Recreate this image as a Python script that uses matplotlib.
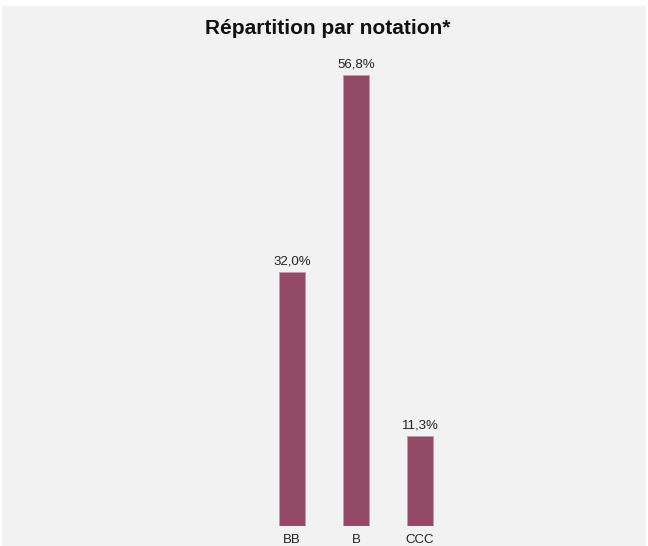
import matplotlib
matplotlib.use('Agg')
import matplotlib.pyplot as plt
from matplotlib.patches import Rectangle

plt.rcParams['font.family'] = ['Liberation Sans', 'DejaVu Sans']

# data
ratings = ['BB', 'B', 'CCC']
shares = [32.0, 56.8, 11.3]
labels = ['32,0%', '56,8%', '11,3%']

W, H = 648, 546
fig = plt.figure(figsize=(W / 100, H / 100), dpi=100)
fig.patch.set_facecolor('white')

# grey panel behind the chart
fig.patches.append(Rectangle((2 / W, 0), 644 / W, 540 / H, transform=fig.transFigure,
                             facecolor='#f2f2f2', edgecolor='none', zorder=-1))

# axes placed in pixels: bars bottom at y=526 from top
ax = fig.add_axes([2 / W, 20 / H, 644 / W, 476 / H])
ax.set_facecolor('none')

x = list(range(len(ratings)))
ax.bar(x, shares, width=0.4, color='#924a66', edgecolor='#c89aae', linewidth=0.6)
for xi, v, lab in zip(x, shares, labels):
    ax.text(xi, v + 1.0, lab, ha='center', va='baseline', fontsize=9.5, color='#222222')

ax.set_xlim(1 - 354 / 64, 1 + 290 / 64)
ax.set_ylim(0, 60)
ax.set_xticks(x)
ax.set_xticklabels(ratings, fontsize=9.5, color='#222222')
ax.tick_params(axis='x', length=0, pad=6)
ax.set_yticks([])
for s in ax.spines.values():
    s.set_visible(False)

fig.text(327.5 / W, 1 - 34 / H, 'Répartition par notation*', ha='center', va='baseline',
         fontsize=15, fontweight='bold', color='#111111')

fig.savefig('out.png', dpi=100)
